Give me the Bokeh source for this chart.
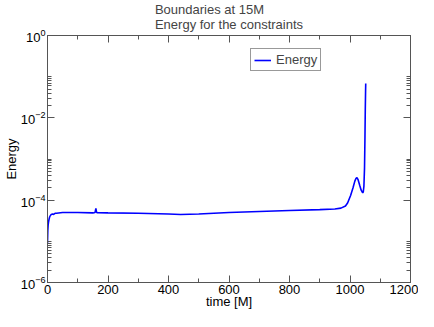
from bokeh.plotting import figure
from bokeh.models import (FixedTicker, LinearAxis, LogAxis, Title, Legend, LegendItem,
                          Range1d, CustomJSTickFormatter)
from bokeh.embed import file_html
from bokeh.resources import INLINE

# ---- data ----
time_M = [0, 1, 2, 3, 5, 7, 10, 13, 16, 20, 25, 30, 50, 100, 150, 157, 160, 162, 165,
          200, 300, 400, 440, 500, 600, 700, 800, 900, 950, 970, 985, 992, 1002, 1010,
          1016, 1020, 1023, 1027, 1032, 1037, 1042, 1044, 1046, 1048, 1049.5, 1050.5,
          1051.5, 1052]
energy = [9e-6, 1.8e-5, 2.4e-5, 2.8e-5, 3.4e-5, 3.9e-5, 4.3e-5, 4.5e-5, 4.6e-5, 4.5e-5,
          4.8e-5, 4.8e-5, 5.0e-5, 5.0e-5, 4.9e-5, 5.0e-5, 6.3e-5, 5.1e-5, 4.95e-5,
          4.9e-5, 4.8e-5, 4.6e-5, 4.5e-5, 4.6e-5, 5.0e-5, 5.3e-5, 5.6e-5, 5.9e-5, 6.1e-5,
          6.4e-5, 7.2e-5, 8.5e-5, 1.3e-4, 2.0e-4,
          2.9e-4, 3.4e-4, 3.55e-4, 3.1e-4, 2.3e-4, 1.75e-4, 1.5e-4, 1.6e-4, 2.2e-4, 6e-4,
          3.5e-3, 1.5e-2, 4.5e-2, 6.8e-2]

x_major = [0, 200, 400, 600, 800, 1000, 1200]
x_minor = [100, 300, 500, 700, 900, 1100]
y_major = [1e-6, 1e-4, 1e-2, 1e0]
y_minor = [k * 10.0 ** e for e in (-6, -4, -2) for k in range(2, 11)]

title_text = "Boundaries at 15M\nEnergy for the constraints"
x_label = "time [M]"
y_label = "Energy"
series_name = "Energy"

FONT = "Liberation Sans"
AXC = "#555555"

p = figure(width=418, height=311, y_axis_type="log", output_backend="svg",
           toolbar_location=None, title=None,
           x_range=Range1d(0, 1200), y_range=Range1d(1e-6, 1.0),
           min_border_left=0, min_border_right=8, min_border_top=0, min_border_bottom=0)
p.outline_line_color = AXC
p.grid.visible = False
p.background_fill_color = "white"

def style(ax, ticks, minors, show_labels=True):
    ax.ticker = FixedTicker(ticks=ticks, minor_ticks=minors)
    ax.axis_line_color = AXC
    ax.major_tick_line_color = AXC
    ax.minor_tick_line_color = AXC
    ax.major_tick_in = 7
    ax.major_tick_out = 0
    ax.minor_tick_in = 4
    ax.minor_tick_out = 0
    ax.major_label_text_font = FONT
    ax.major_label_text_font_size = "13px"
    ax.major_label_text_color = "black"
    ax.major_label_standoff = 2
    ax.axis_label_text_font = FONT
    ax.axis_label_text_font_size = "13px"
    ax.axis_label_text_font_style = "normal"
    ax.axis_label_text_color = "black"
    ax.axis_label_standoff = 0
    if not show_labels:
        ax.formatter = CustomJSTickFormatter(code="return ' ';")
        ax.major_label_text_font_size = "1px"
        ax.major_label_standoff = 0

xa = p.xaxis[0]
style(xa, x_major, x_minor)
xa.axis_label = x_label
xa.major_label_standoff = 2
xa.axis_label_standoff = -3
ya = p.yaxis[0]
style(ya, y_major, y_minor)
ya.axis_label = y_label
ya.axis_label_standoff = -1
ya.major_label_standoff = 2

top = LinearAxis()
style(top, x_major, x_minor, show_labels=False)
p.add_layout(top, "above")
right = LogAxis()
style(right, y_major, y_minor, show_labels=False)
p.add_layout(right, "right")

title = Title(text=title_text, align="center",
              text_font=FONT, text_font_size="13px", text_font_style="normal",
              text_line_height=0.95, standoff=0, offset=0)
title.padding = 0
p.add_layout(title, "above")

r = p.line(time_M, energy, line_color="#0000ff", line_width=1.6)

leg = Legend(items=[LegendItem(label=series_name, renderers=[r])],
             location=(203, 211), orientation="vertical")
leg.border_line_color = "#333333"
leg.border_line_width = 1
leg.label_text_font = FONT
leg.label_text_font_size = "13px"
leg.padding = 3
leg.margin = 0
leg.spacing = 0
leg.glyph_width = 17
leg.glyph_height = 12
leg.label_standoff = 5
leg.label_height = 12
leg.background_fill_alpha = 1
p.add_layout(leg, "center")

open("out.html", "w").write(file_html(p, INLINE))
